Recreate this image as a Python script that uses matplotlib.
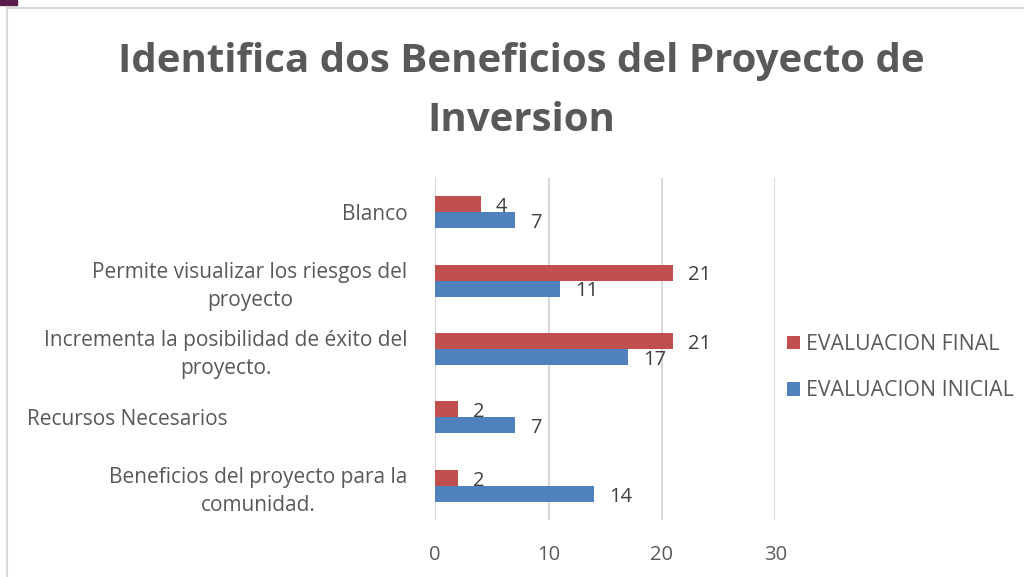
import matplotlib.pyplot as plt
import numpy as np
from matplotlib.patches import Rectangle
from matplotlib.transforms import ScaledTranslation

categorias = ["Beneficios del proyecto para la\ncomunidad.",
              "Recursos Necesarios",
              "Incrementa la posibilidad de éxito del\nproyecto.",
              "Permite visualizar los riesgos del\nproyecto",
              "Blanco"]
inicial = [14, 7, 17, 11, 7]
final = [2, 2, 21, 21, 4]
xticks = [0, 10, 20, 30]

rojo = "#c0504d"
azul = "#4f81bd"
gris = "#595959"

plt.rcParams['font.family'] = ['Open Sans', 'DejaVu Sans']

fig = plt.figure(figsize=(10.24, 5.77), dpi=100)
ax = fig.add_axes([0.425, 0.0988, 0.332, 0.5927])

y = np.arange(len(categorias))
h = 0.235
b1 = ax.barh(y - h / 2, inicial, height=h, color=azul, label="EVALUACION INICIAL", zorder=3)
b2 = ax.barh(y + h / 2, final, height=h, color=rojo, label="EVALUACION FINAL", zorder=3)

for bars, vals in ((b1, inicial), (b2, final)):
    for bar, v in zip(bars, vals):
        ax.annotate(str(v), (bar.get_width(), bar.get_y() + bar.get_height() / 2),
                    xytext=(11, -2), textcoords="offset points", ha="left", va="center",
                    fontsize=14.5, color="#404040")

ax.set_xlim(0, 30)
ax.set_ylim(-0.5, 4.5)
ax.set_xticks(xticks)
ax.set_xticklabels([str(t) for t in xticks], fontsize=14.5, color=gris)
ax.set_yticks(y)
ax.set_yticklabels(categorias, fontsize=15, color=gris, multialignment="center", linespacing=1.4)
ax.tick_params(length=0, pad=20)
ax.tick_params(axis="x", pad=18)
ax.grid(axis="x", color="#d9d9d9", linewidth=1.5, zorder=0)
for s in ax.spines.values():
    s.set_visible(False)

# "Recursos Necesarios" sits further left in the original
lab = ax.get_yticklabels()[1]
lab.set_transform(lab.get_transform() + ScaledTranslation(-1.80, 0, fig.dpi_scale_trans))

handles = [b2, b1]
leg = fig.legend(handles, [hh.get_label() for hh in handles], loc="center left",
                 bbox_to_anchor=(0.750, 0.363), frameon=False, fontsize=15.3,
                 handlelength=0.6, handleheight=0.6, handletextpad=0.3, labelspacing=1.2)
for t in leg.get_texts():
    t.set_color(gris)

fig.text(0.509, 0.842, "Identifica dos Beneficios del Proyecto de\nInversion", ha="center", va="center",
         fontsize=29, fontweight="bold", color=gris, linespacing=1.65)

# chart frame + corner mark
fig.patches.append(Rectangle((7 / 1024, -0.1), 1.2, 1 - 8 / 577 + 0.1, transform=fig.transFigure,
                             fill=False, edgecolor="#d9d9d9", linewidth=1.5))
fig.patches.append(Rectangle((0, 1 - 5 / 577), 17 / 1024, 5 / 577, transform=fig.transFigure,
                             color="#5a1a4a"))

fig.savefig("out.png", dpi=100)
